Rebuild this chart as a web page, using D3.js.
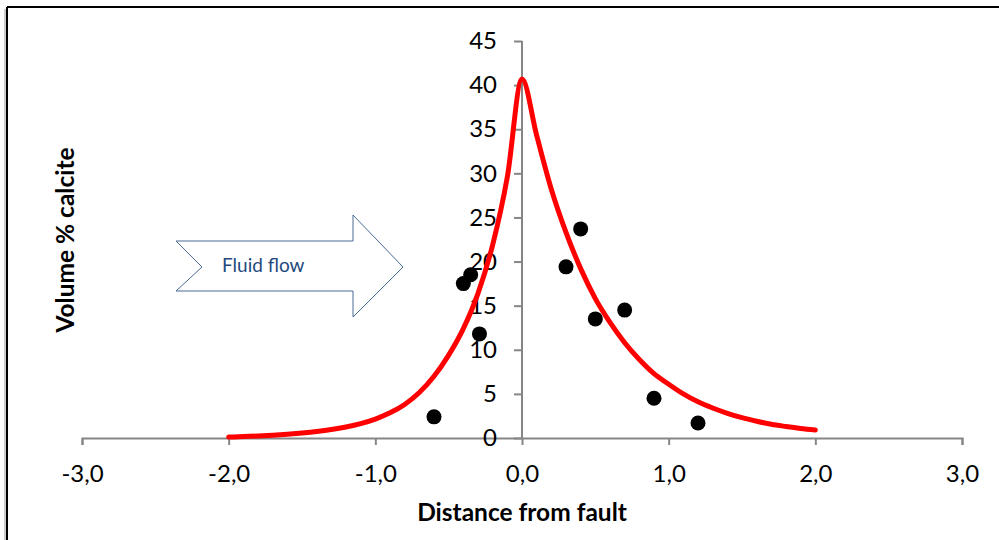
<!DOCTYPE html>
<html>
<head>
<meta charset="utf-8">
<script src="https://cdn.jsdelivr.net/npm/d3@7"></script>
<style>
  body { margin: 0; background: #fff; }
  svg { display: block; }
  .tick text { font-family: Lato, "Open Sans", sans-serif; font-size: 24px; fill: #000; }
  .axis path, .axis line { stroke: #868686; stroke-width: 2px; }
</style>
</head>
<body>
<div id="chart"></div>
<script>
// samples (distance from fault, volume % calcite)
var sampleX = [-0.6, -0.4, -0.35, -0.29, 0.3, 0.4, 0.5, 0.7, 0.9, 1.2];
var sampleY = [2.4, 17.5, 18.5, 11.8, 19.4, 23.7, 13.5, 14.5, 4.5, 1.7];

// model curve, every 0.1 from -2 to 2
var curveX = [-2.0, -1.9, -1.8, -1.7, -1.6, -1.5, -1.4, -1.3, -1.2, -1.1,
              -1.0, -0.9, -0.8, -0.7, -0.6, -0.5, -0.4, -0.3, -0.2, -0.1,
              0.0, 0.1, 0.2, 0.3, 0.4, 0.5, 0.6, 0.7, 0.8, 0.9,
              1.0, 1.1, 1.2, 1.3, 1.4, 1.5, 1.6, 1.7, 1.8, 1.9, 2.0];
var curveY = [0.1, 0.16, 0.23, 0.32, 0.43, 0.57, 0.74, 0.96, 1.25, 1.63,
              2.15, 2.85, 3.8, 5.15, 7.0, 9.4, 12.4, 16.4, 21.9, 29.6,
              40.7, 34.3, 28.2, 23.3, 19.2, 15.8, 13.1, 10.8, 8.9, 7.3,
              6.1, 5.0, 4.1, 3.4, 2.8, 2.3, 1.9, 1.55, 1.3, 1.08, 0.9];

var xTicks = [-3, -2, -1, 0, 1, 2, 3];
var yTicks = [0, 5, 10, 15, 20, 25, 30, 35, 40, 45];

var svgWidth = 999;
var svgHeight = 540;

var svg = d3.select("#chart")
  .append("svg")
  .attr("width", svgWidth)
  .attr("height", svgHeight);

// outer frame (top and left edge only)
svg.append("line").attr("x1", 7).attr("y1", 7).attr("x2", svgWidth).attr("y2", 7)
  .attr("stroke", "#000").attr("stroke-width", 2);
svg.append("line").attr("x1", 7).attr("y1", 7).attr("x2", 7).attr("y2", svgHeight)
  .attr("stroke", "#000").attr("stroke-width", 2);
svg.append("line").attr("x1", 5).attr("y1", 9).attr("x2", 5).attr("y2", svgHeight)
  .attr("stroke", "#999").attr("stroke-width", 1);

var x = d3.scaleLinear().domain([-3, 3]).range([82, 962]);
var y = d3.scaleLinear().domain([0, 45]).range([438, 41]);

var locale = d3.formatLocale({ decimal: ",", thousands: ".", grouping: [3], currency: ["", ""], minus: "-" });
var fmt = locale.format(".1f");

var xAxis = svg.append("g")
  .attr("class", "axis")
  .attr("transform", `translate(0, ${y(0)})`)
  .call(d3.axisBottom(x).tickValues(xTicks).tickFormat(fmt).tickSize(7).tickSizeOuter(7).tickPadding(20));

var yAxis = svg.append("g")
  .attr("class", "axis")
  .attr("transform", `translate(${x(0)}, 0)`)
  .call(d3.axisLeft(y).tickValues(yTicks).tickSize(8).tickSizeOuter(0).tickPadding(17));

// y axis line without end caps
yAxis.select(".domain").attr("d", `M0,${y(45)}V${y(0)}`);

// red model curve
var line = d3.line()
  .x(function(d, i) { return x(curveX[i]); })
  .y(function(d) { return y(d); })
  .curve(d3.curveMonotoneX);

svg.append("path")
  .datum(curveY)
  .attr("d", line)
  .attr("fill", "none")
  .attr("stroke", "#ff0000")
  .attr("stroke-width", 5)
  .attr("stroke-linecap", "round")
  .attr("stroke-linejoin", "round");

// sample points
svg.selectAll("circle.sample")
  .data(sampleY)
  .enter()
  .append("circle")
  .attr("class", "sample")
  .attr("cx", (d, i) => x(sampleX[i]))
  .attr("cy", d => y(d))
  .attr("r", 7.5)
  .attr("fill", "#000");

// Fluid flow arrow
var arrow = [[176, 241], [202, 267], [176, 291], [353, 291], [353, 317], [403, 267], [353, 215], [353, 241]];
svg.append("polygon")
  .attr("points", arrow.map(p => p.join(",")).join(" "))
  .attr("fill", "#fff")
  .attr("stroke", "#4a6a94")
  .attr("stroke-width", 1);

svg.append("text")
  .attr("x", 222)
  .attr("y", 272)
  .attr("font-family", "Lato, sans-serif")
  .attr("font-size", 19)
  .attr("fill", "#1f497d")
  .text("Fluid flow");

// axis titles
svg.append("text")
  .attr("x", 522)
  .attr("y", 521)
  .attr("text-anchor", "middle")
  .attr("font-family", "Lato, sans-serif")
  .attr("font-weight", "bold")
  .attr("font-size", 24.5)
  .text("Distance from fault");

svg.append("text")
  .attr("transform", "rotate(-90)")
  .attr("x", -240)
  .attr("y", 74)
  .attr("text-anchor", "middle")
  .attr("font-family", "Lato, sans-serif")
  .attr("font-weight", "bold")
  .attr("font-size", 24.5)
  .text("Volume % calcite");
</script>
</body>
</html>
